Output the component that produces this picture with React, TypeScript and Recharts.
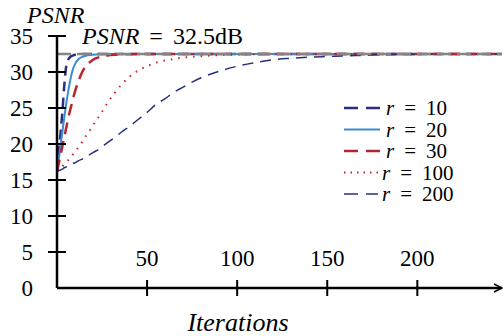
import { Legend, Line, LineChart, ReferenceLine, XAxis, YAxis } from "recharts";

const iterations = [
  0, 1, 2, 3, 4, 5, 6, 7, 8, 9, 10, 12, 14, 16, 18, 20, 24, 28, 32, 36, 40, 45, 50, 55, 60, 65, 70, 75, 80, 90,
  100, 110, 120, 130, 140, 150, 160, 170, 180, 200, 220, 247,
];
const psnrR10 = [
  16.2, 18.8, 21.6, 24.5, 28.0, 30.6, 31.6, 32.0, 32.2, 32.3, 32.4, 32.45, 32.5, 32.5, 32.5, 32.5, 32.5, 32.5, 32.5,
  32.5, 32.5, 32.5, 32.5, 32.5, 32.5, 32.5, 32.5, 32.5, 32.5, 32.5, 32.5, 32.5, 32.5, 32.5, 32.5, 32.5, 32.5, 32.5,
  32.5, 32.5, 32.5, 32.5,
];
const psnrR20 = [
  16.2, 17.9, 19.8, 21.7, 23.6, 25.4, 27.0, 28.4, 29.6, 30.5, 31.1, 31.8, 32.1, 32.25, 32.35, 32.4, 32.47, 32.5, 32.5,
  32.5, 32.5, 32.5, 32.5, 32.5, 32.5, 32.5, 32.5, 32.5, 32.5, 32.5, 32.5, 32.5, 32.5, 32.5, 32.5, 32.5, 32.5, 32.5,
  32.5, 32.5, 32.5, 32.5,
];
const psnrR30 = [
  16.2, 17.3, 18.5, 19.7, 20.9, 22.1, 23.3, 24.4, 25.4, 26.4, 27.3, 28.8, 30.0, 30.8, 31.3, 31.7, 32.1, 32.3, 32.4,
  32.45, 32.48, 32.5, 32.5, 32.5, 32.5, 32.5, 32.5, 32.5, 32.5, 32.5, 32.5, 32.5, 32.5, 32.5, 32.5, 32.5, 32.5, 32.5,
  32.5, 32.5, 32.5, 32.5,
];
const psnrR100 = [
  16.2, 16.4, 16.7, 16.9, 17.2, 17.5, 17.7, 18.0, 18.3, 18.6, 18.9, 19.6, 20.3, 21.1, 21.8, 22.6, 24.1, 25.7, 27.1,
  28.3, 29.3, 30.2, 30.8, 31.3, 31.6, 31.8, 32.0, 32.1, 32.2, 32.35, 32.42, 32.46, 32.48, 32.5, 32.5, 32.5, 32.5,
  32.5, 32.5, 32.5, 32.5, 32.5,
];
const psnrR200 = [
  16.2, 16.3, 16.4, 16.5, 16.7, 16.8, 16.9, 17.0, 17.1, 17.3, 17.4, 17.7, 17.9, 18.2, 18.5, 18.8, 19.4, 20.2, 20.9,
  21.7, 22.4, 23.4, 24.4, 25.5, 26.3, 27.2, 27.9, 28.6, 29.2, 30.1, 30.8, 31.3, 31.7, 31.9, 32.05, 32.15, 32.25, 32.3,
  32.4, 32.45, 32.5, 32.5,
];
const yTicks = [0, 5, 10, 15, 20, 25, 30, 35];
const xTicks = [50, 100, 150, 200];
const targetPsnr = 32.5;

const data = iterations.map((it, i) => ({
  it,
  r10: psnrR10[i],
  r20: psnrR20[i],
  r30: psnrR30[i],
  r100: psnrR100[i],
  r200: psnrR200[i],
}));

const FONT = "'Liberation Serif', 'Times New Roman', Times, serif";
const txt = (size: number, italic = false) => ({
  fontFamily: FONT,
  fontSize: size,
  fontStyle: italic ? "italic" : "normal",
  fill: "#000",
});

// 범례 순서 = 그림 순서
const series = [
  { key: "r10", label: "10", color: "#2b2f80", width: 2.5, dash: "10 6", legendDash: "14 8" },
  { key: "r20", label: "20", color: "#3a8cd0", width: 2, dash: undefined, legendDash: undefined },
  { key: "r30", label: "30", color: "#b5262c", width: 2.5, dash: "12 7", legendDash: "14 8" },
  { key: "r100", label: "100", color: "#c0272d", width: 2, dash: "1.5 6", legendDash: "1.5 5" },
  { key: "r200", label: "200", color: "#27307c", width: 1.5, dash: "11 7", legendDash: "14 8" },
];

function YTick({ x, y, payload }: any) {
  return (
    <g>
      {payload.value !== 0 && <line x1={x - 9} x2={x + 9} y1={y} y2={y} stroke="#000" strokeWidth={2} />}
      <text x={x - 24} y={y} dy="0.35em" textAnchor="end" style={txt(23)}>
        {payload.value}
      </text>
    </g>
  );
}

function XTick({ x, y, payload }: any) {
  return (
    <g>
      <line x1={x} x2={x} y1={y - 8} y2={y + 8} stroke="#000" strokeWidth={2} />
      <text x={x} y={y - 22} textAnchor="middle" style={txt(23)}>
        {payload.value}
      </text>
    </g>
  );
}

function LegendBox() {
  return (
    <svg width={130} height={110} style={{ display: "block" }}>
      {series.map((s, i) => {
        const cy = 12 + i * 21.5;
        const long = i < 3;
        return (
          <g key={s.key}>
            <line
              x1={1}
              x2={long ? 37 : 35}
              y1={cy}
              y2={cy}
              stroke={s.color}
              strokeWidth={s.width}
              strokeDasharray={s.legendDash}
            />
            <text x={long ? 43 : 39} y={cy} dy="0.35em" style={txt(21)}>
              <tspan fontStyle="italic">r</tspan>
              <tspan dx={10}>=</tspan>
              <tspan dx={10}>{s.label}</tspan>
            </text>
          </g>
        );
      })}
    </svg>
  );
}

export default function App() {
  return (
    <div style={{ position: "absolute", left: 0, top: 0, width: 504, height: 336, background: "#fff", fontFamily: FONT }}>
      <svg width={0} height={0} style={{ position: "absolute" }}>
        <defs>
          <marker id="axisArrow" viewBox="0 0 10 10" refX={9} refY={5} markerWidth={10} markerHeight={10} markerUnits="userSpaceOnUse" orient="auto">
            <path d="M1,1 L9,5 L1,9" fill="none" stroke="#000" strokeWidth={1.5} />
          </marker>
        </defs>
      </svg>
      <LineChart width={504} height={336} data={data} margin={{ top: 36, right: 2, bottom: 0, left: 0 }}>
        <XAxis
          dataKey="it"
          type="number"
          domain={[0, 247]}
          ticks={xTicks}
          height={48}
          tickSize={0}
          tickMargin={0}
          tickLine={false}
          tick={<XTick />}
          axisLine={{ stroke: "#000", strokeWidth: 2.5, markerEnd: "url(#axisArrow)" }}
          allowDataOverflow
          label={{
            content: ({ viewBox }: any) => (
              <text x={viewBox.x + 181} y={viewBox.y + 43} textAnchor="middle" style={txt(26, true)}>
                Iterations
              </text>
            ),
          }}
        />
        <YAxis
          type="number"
          domain={[0, 35]}
          ticks={yTicks}
          width={57}
          tickSize={0}
          tickMargin={0}
          tickLine={false}
          tick={<YTick />}
          axisLine={{ stroke: "#000", strokeWidth: 2.5 }}
          label={{
            content: ({ viewBox }: any) => (
              <text x={viewBox.x + 27} y={viewBox.y - 13} style={txt(24, true)}>
                PSNR
              </text>
            ),
          }}
        />
        {series.map((s) => (
          <Line
            key={s.key}
            dataKey={s.key}
            type="monotone"
            stroke={s.color}
            strokeWidth={s.width}
            strokeDasharray={s.dash}
            dot={false}
            isAnimationActive={false}
          />
        ))}
        <ReferenceLine
          y={targetPsnr}
          stroke="#858585"
          strokeWidth={2.5}
          strokeDasharray="14 6"
          label={{
            content: ({ viewBox }: any) => (
              <text x={viewBox.x + 25} y={viewBox.y - 10} style={txt(24)}>
                <tspan fontStyle="italic">PSNR</tspan>
                <tspan dx={10}>=</tspan>
                <tspan dx={10}>32.5dB</tspan>
              </text>
            ),
          }}
        />
        <Legend
          layout="vertical"
          align="center"
          verticalAlign="middle"
          wrapperStyle={{ left: 343, top: 96, width: 130 }}
          content={() => <LegendBox />}
        />
      </LineChart>
    </div>
  );
}
